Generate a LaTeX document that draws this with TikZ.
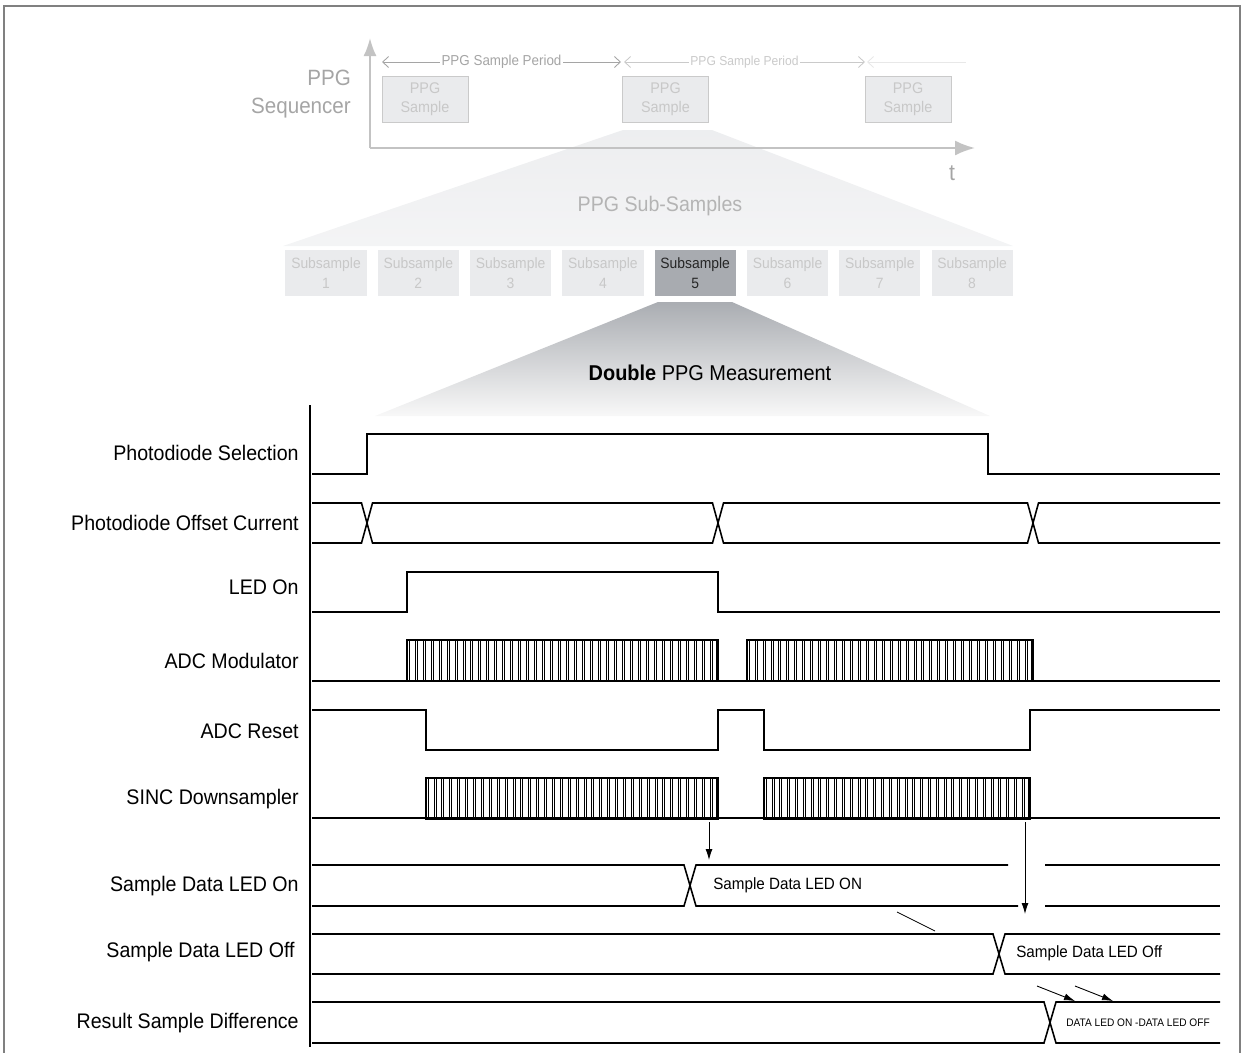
\documentclass[tikz,border=0pt]{standalone}
\usepackage{fontspec}
\setmainfont{Liberation Sans}[FakeStretch=0.93]
\definecolor{frameGray}{RGB}{128,128,128}
\definecolor{axisGray}{RGB}{195,195,195}
\definecolor{textGray}{RGB}{165,165,165}
\definecolor{paleGray}{RGB}{200,200,200}
\definecolor{boxFill}{RGB}{234,235,237}
\definecolor{boxLine}{RGB}{202,202,202}
\definecolor{selFill}{RGB}{168,171,176}
\definecolor{fanTop}{RGB}{170,173,178}
\definecolor{fanBottom}{RGB}{248,248,248}
\usetikzlibrary{arrows.meta,positioning,calc}

\begin{document}
\begin{tikzpicture}[
    x=0.02cm, y=-0.02cm,
    sig/.style={black, line width=0.9pt},
    stripe/.style={black, line width=0.35pt},
    lbl/.style={anchor=east, inner sep=0pt, font=\fontsize{12}{14}\selectfont},
    ppgbox/.style={draw=boxLine, fill=boxFill, line width=0.5pt, minimum width=1.72cm,
      minimum height=0.92cm, align=center, text=paleGray, font=\fontsize{8.8}{11}\selectfont},
    subbox/.style={fill=boxFill, minimum width=1.6cm, minimum height=0.92cm, align=center,
      text=paleGray, font=\fontsize{8.5}{11}\selectfont},
    per/.style={line width=0.5pt, {Straight Barb[length=1.2mm,width=2.2mm]}-{Straight Barb[length=1.2mm,width=2.2mm]}},
    arr/.style={black, line width=0.5pt, -{Latex[length=2.2mm,width=1.4mm]}}
  ]
  \clip (0,0) rectangle (1248,1052);

  % zoom fans
  \shade[top color=boxFill!85!white, bottom color=boxFill!55!white]
    (623,130) -- (712,130) -- (1013,246) -- (283,246) -- cycle;
  \shade[top color=fanTop, bottom color=fanBottom]
    (658,302) -- (732,302) -- (990,416) -- (375,416) -- cycle;

  % PPG sequencer
  \draw[axisGray, line width=1.2pt, -{Latex[length=3.6mm,width=2.6mm]}] (370,148) -- (370,38);
  \draw[axisGray, line width=1.2pt, -{Latex[length=4mm,width=3mm]}] (370,148) -- (975,148);
  \node[anchor=east, align=right, text=textGray, font=\fontsize{12.6}{15.5}\selectfont]
    (seq) at (357,94) {PPG\\Sequencer};
  \node[text=textGray, font=\fontsize{13}{15}\selectfont] (tlbl) at (952,173) {t};
  \node[ppgbox] (ps1) at (425,99) {PPG\\Sample};
  \node[ppgbox] (ps2) at (665.5,99) {PPG\\Sample};
  \node[ppgbox] (ps3) at (908,99) {PPG\\Sample};
  \draw[per, textGray] (382,62) -- (621,62)
    node[midway, fill=white, inner sep=1pt, font=\fontsize{8.2}{10}\selectfont] (per1) {PPG Sample Period};
  \draw[per, boxLine] (624,62) -- (865,62)
    node[midway, fill=white, inner sep=1pt, font=\fontsize{7.4}{9}\selectfont] (per2) {PPG Sample Period};
  \draw[line width=0.5pt, black!9, {Straight Barb[length=1.2mm,width=2.2mm]}-] (867,62) -- (966,62);

  % sub-samples
  \node[text=paleGray!90!black, font=\fontsize{12}{14}\selectfont] (subt) at (660,206) {PPG Sub-Samples};
  \foreach \i in {1,2,3,4,6,7,8} {
    \node[subbox] (ss\i) at ({326+(\i-1)*92.3},273) {Subsample\\\i};
  }
  \node[subbox, fill=selFill, text=black!85] (ss5) at (695.2,273) {Subsample\\5};
  \node[font=\fontsize{12.2}{14}\selectfont] (dbl) at (710,373) {\textbf{Double} PPG Measurement};

  % timing diagram
  \draw[black, line width=1.7pt] (310,405) -- (310,1047);
  \node[lbl] (l1) at (299,453) {Photodiode Selection};
  \node[lbl] (l2) at (299,523) {Photodiode Offset Current};
  \node[lbl] (l3) at (299,587) {LED On};
  \node[lbl] (l4) at (299,661) {ADC Modulator};
  \node[lbl] (l5) at (299,731) {ADC Reset};
  \node[lbl] (l6) at (299,799) {SINC Downsampler};
  \node[lbl] (l7) at (299,886) {Sample Data LED On};
  \node[lbl] (l8) at (295,952) {Sample Data LED Off};
  \node[lbl] (l9) at (299,1023) {Result Sample Difference};

  \draw[sig] (312,474) -- (367,474) -- (367,434) -- (988,434) -- (988,474) -- (1220,474);
  \draw[sig] (312,503) -- (361.5,503) -- (372.5,543) -- (712.5,543) -- (723.5,503)
    -- (1027.5,503) -- (1038.5,543) -- (1220,543);
  \draw[sig] (312,543) -- (361.5,543) -- (372.5,503) -- (712.5,503) -- (723.5,543)
    -- (1027.5,543) -- (1038.5,503) -- (1220,503);
  \draw[sig] (312,612) -- (407,612) -- (407,572) -- (718,572) -- (718,612) -- (1220,612);
  \draw[sig] (312,681) -- (1220,681);
  \draw[sig] (312,710) -- (426,710) -- (426,750) -- (718,750) -- (718,710) -- (764,710)
    -- (764,750) -- (1030,750) -- (1030,710) -- (1220,710);
  \draw[sig] (312,818) -- (1220,818);
  % clock bursts
  \foreach \xa/\xb/\ya/\n in {407/718/640/38, 747/1033/640/35, 426/718/778/36, 764/1030/778/33} {
    \draw[sig] (\xa,\ya) rectangle (\xb,{\ya+41});
    \draw[stripe] ({\xb-2},\ya) -- ({\xb-2},{\ya+41});
    \foreach \k in {0,...,\n} {
      \pgfmathsetmacro\xx{\xa+\k*(\xb-\xa)/(\n+1)}
      \draw[stripe] (\xx,\ya) -- (\xx,{\ya+41});
      \draw[stripe] ({\xx+2},\ya) -- ({\xx+2},{\ya+41});
    }
  }

  % sample data rows
  \draw[sig] (312,865) -- (684,865) -- (696,906) -- (1018,906);
  \draw[sig] (312,906) -- (684,906) -- (696,865) -- (1008,865);
  \draw[sig] (1045,865) -- (1220,865);
  \draw[sig] (1045,906) -- (1220,906);
  \draw[sig] (312,934) -- (993,934) -- (1005,974) -- (1220,974);
  \draw[sig] (312,974) -- (993,974) -- (1005,934) -- (1220,934);
  \draw[sig] (312,1002) -- (1044,1002) -- (1056,1043) -- (1220,1043);
  \draw[sig] (312,1043) -- (1044,1043) -- (1056,1002) -- (1220,1002);
  \node[anchor=west, inner sep=0pt, font=\fontsize{9.3}{11}\selectfont] (don) at (713,885) {Sample Data LED ON};
  \node[anchor=west, inner sep=0pt, font=\fontsize{9.3}{11}\selectfont] (doff) at (1016,953) {Sample Data LED Off};
  \node[anchor=west, inner sep=0pt, font=\fontsize{6.2}{8}\selectfont] (ddiff) at (1066,1023) {DATA LED ON -DATA LED OFF};

  \coordinate (a1s) at (709,822);
  \coordinate (a1e) at (709,860);
  \coordinate (a2s) at (1025,822);
  \coordinate (a2e) at (1025,914);
  \coordinate (a3s) at (1037,986);
  \coordinate (a3e) at (1075,1001);
  \coordinate (a4s) at (1075,986);
  \coordinate (a4e) at (1113,1001);
  \coordinate (d1s) at (897,912);
  \coordinate (d1e) at (935,931);
  \draw[arr] (a1s) -- (a1e);
  \draw[arr] (a2s) -- (a2e);
  \draw[arr] (a3s) -- (a3e);
  \draw[arr] (a4s) -- (a4e);
  \draw[black, line width=0.5pt] (d1s) -- (d1e);

  \draw[frameGray, line width=1.6pt] (4,6) rectangle (1240,1070);
\end{tikzpicture}
\end{document}
